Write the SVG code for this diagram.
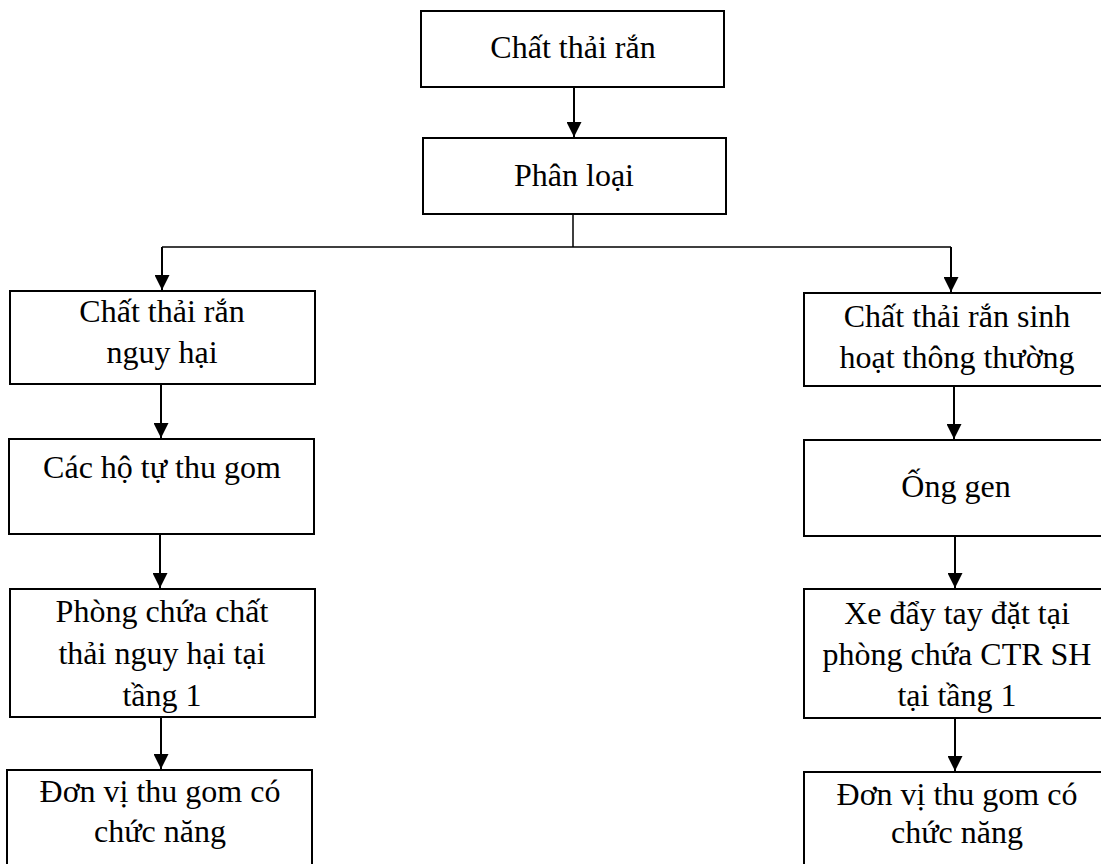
<svg xmlns="http://www.w3.org/2000/svg" width="1101" height="864" viewBox="0 0 1101 864">
<defs>
<marker id="ah" markerWidth="15" markerHeight="15" refX="10" refY="5" orient="auto" markerUnits="userSpaceOnUse" viewBox="0 0 10 10">
<path d="M0,0 L10,5 L0,10 z" fill="#000"/>
</marker>
<style>
.box{fill:#fff;stroke:#000;stroke-width:2}
.t{font-family:"Liberation Serif","Times New Roman",serif;font-size:32px;fill:#000;text-anchor:middle}
.c{fill:none;stroke:#000;stroke-width:2}
.c2{fill:none;stroke:#000;stroke-width:1.5}
</style>
</defs>
<rect width="1101" height="864" fill="#fff"/>
<g id="connectors">
<path class="c" d="M574,87 V137" marker-end="url(#ah)"/>
<path class="c2" d="M573,214 V247 M162,247 H951"/>
<path class="c" d="M162,247 V290" marker-end="url(#ah)"/>
<path class="c" d="M951,247 V292" marker-end="url(#ah)"/>
<path class="c" d="M161,384 V438" marker-end="url(#ah)"/>
<path class="c" d="M954,386 V439" marker-end="url(#ah)"/>
<path class="c" d="M160,534 V588" marker-end="url(#ah)"/>
<path class="c" d="M955,536 V588" marker-end="url(#ah)"/>
<path class="c" d="M161,717 V769" marker-end="url(#ah)"/>
<path class="c" d="M955,718 V771" marker-end="url(#ah)"/>
</g>
<g id="n1"><rect class="box" x="421" y="11" width="303" height="76"/><text class="t" x="573" y="58">Chất thải rắn</text></g>
<g id="n2"><rect class="box" x="423" y="138" width="303" height="76"/><text class="t" x="574" y="186">Phân loại</text></g>
<g id="n3"><rect class="box" x="10" y="291" width="305" height="93"/><text class="t" x="162" y="322">Chất thải rắn</text><text class="t" x="162" y="363">nguy hại</text></g>
<g id="n4"><rect class="box" x="9" y="439" width="305" height="95"/><text class="t" x="162" y="478">Các hộ tự thu gom</text></g>
<g id="n5"><rect class="box" x="10" y="589" width="305" height="128"/><text class="t" x="162" y="622">Phòng chứa chất</text><text class="t" x="162" y="664">thải nguy hại tại</text><text class="t" x="162" y="706">tầng 1</text></g>
<g id="n6"><rect class="box" x="7" y="770" width="305" height="110"/><text class="t" x="160" y="802">Đơn vị thu gom có</text><text class="t" x="160" y="842">chức năng</text></g>
<g id="n7"><rect class="box" x="804" y="293" width="310" height="93"/><text class="t" x="957" y="327">Chất thải rắn sinh</text><text class="t" x="957" y="368">hoạt thông thường</text></g>
<g id="n8"><rect class="box" x="804" y="440" width="310" height="96"/><text class="t" x="956" y="497">Ống gen</text></g>
<g id="n9"><rect class="box" x="804" y="589" width="310" height="129"/><text class="t" x="957" y="624">Xe đẩy tay đặt tại</text><text class="t" x="957" y="665">phòng chứa CTR SH</text><text class="t" x="957" y="706">tại tầng 1</text></g>
<g id="n10"><rect class="box" x="804" y="772" width="310" height="110"/><text class="t" x="957" y="805">Đơn vị thu gom có</text><text class="t" x="957" y="843">chức năng</text></g>
</svg>
